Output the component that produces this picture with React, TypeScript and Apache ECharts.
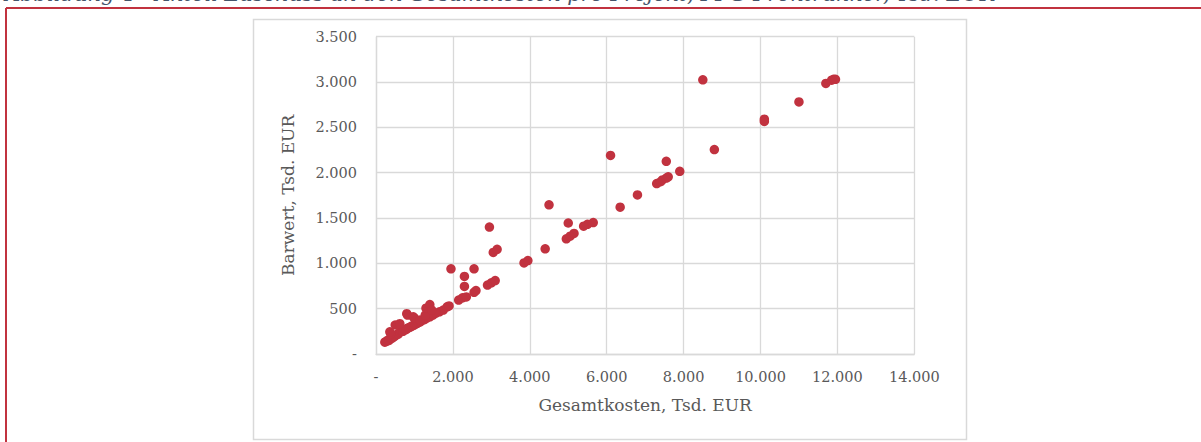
import React, { useEffect, useRef } from "react";
import * as echarts from "echarts";

const titleText =
  "Abbildung 4 - Anteil Zuschuss an den Gesamtkosten pro Projekt, FFG Frontrunner, Tsd. EUR";
const xAxisName = "Gesamtkosten, Tsd. EUR";
const yAxisName = "Barwert, Tsd. EUR";

// Gesamtkosten (Tsd. EUR)
const gesamtkosten: number[] = [
  8500, 11700, 11850, 11900, 11950, 11000, 10100, 10100, 8800, 6100, 7550, 7900,
  7300, 7400, 7450, 7550, 7600, 6800, 6350, 4500, 5000, 5650, 5500, 5400, 4950,
  5050, 5150, 4400, 3850, 3950, 2950, 3050, 3150, 1950, 2550, 2300, 2300, 2550,
  2600, 2900, 3000, 3100, 2150, 2250, 2350, 1650, 1750, 1850, 1900,
  230, 270, 300, 340, 380, 420, 460, 500, 540, 580, 620, 660, 700, 740, 780, 820,
  860, 900, 940, 980, 1020, 1060, 1100, 1150, 1200, 1260, 1320, 1400, 1480, 1560,
  380, 360, 500, 620, 800, 820, 970, 1000, 1150, 1280, 1300, 1400, 1450,
];
// Barwert (Tsd. EUR)
const barwert: number[] = [
  3025, 2985, 3020, 3030, 3030, 2780, 2590, 2565, 2255, 2190, 2125, 2015,
  1880, 1900, 1920, 1940, 1955, 1755, 1620, 1645, 1445, 1450, 1430, 1410, 1270,
  1300, 1330, 1160, 1005, 1030, 1400, 1120, 1155, 940, 940, 855, 745, 680,
  700, 760, 785, 810, 595, 620, 630, 465, 485, 520, 530,
  130, 140, 150, 150, 170, 175, 190, 200, 215, 220, 240, 250, 250, 265, 270, 285,
  290, 300, 310, 315, 330, 335, 345, 355, 370, 380, 395, 410, 430, 450,
  225, 245, 320, 335, 445, 430, 410, 395, 375, 430, 505, 545, 485,
];

const xTicks = { min: 0, max: 14000, step: 2000 };
const yTicks = { min: 0, max: 3500, step: 500 };

const fmt = (v: number) =>
  v === 0 ? "-" : String(Math.round(v)).replace(/\B(?=(\d{3})+(?!\d))/g, ".");

const FONT = "'DejaVu Serif', 'Liberation Serif', serif";
const TXT = "#595959";
const GRID = "#d9d9d9";
const RED = "#c1323f";

export default function App() {
  const ref = useRef<HTMLDivElement>(null);
  useEffect(() => {
    if (!ref.current) return;
    const chart = echarts.init(ref.current, undefined, { renderer: "svg" });
    const data = gesamtkosten.map((x, i) => [x, barwert[i]]);
    chart.setOption({
      animation: false,
      backgroundColor: "#ffffff",
      graphic: [
        {
          type: "text",
          left: 5,
          top: -17,
          style: {
            text: titleText,
            font: `italic 21px ${FONT}`,
            fill: "#44546a",
          },
        },
        {
          type: "line",
          shape: { x1: 6, y1: 8, x2: 1201, y2: 8 },
          style: { stroke: RED, lineWidth: 2 },
        },
        {
          type: "line",
          shape: { x1: 6, y1: 8, x2: 6, y2: 442 },
          style: { stroke: RED, lineWidth: 2 },
        },
        {
          type: "rect",
          shape: { x: 253.5, y: 19.5, width: 713, height: 420 },
          style: { fill: "none", stroke: GRID, lineWidth: 1.5 },
        },
      ],
      grid: { left: 376, top: 36.7, right: 286.7, bottom: 88, containLabel: false },
      xAxis: {
        type: "value",
        min: xTicks.min,
        max: xTicks.max,
        interval: xTicks.step,
        name: xAxisName,
        nameLocation: "middle",
        nameGap: 42,
        nameTextStyle: { color: TXT, fontFamily: FONT, fontSize: 17 },
        axisLine: { show: true, lineStyle: { color: GRID, width: 1.3 } },
        axisTick: { show: false },
        axisLabel: { color: TXT, fontFamily: FONT, fontSize: 14.5, margin: 15, formatter: fmt },
        splitLine: { show: true, lineStyle: { color: GRID, width: 1.3 } },
      },
      yAxis: {
        type: "value",
        min: yTicks.min,
        max: yTicks.max,
        interval: yTicks.step,
        name: yAxisName,
        nameLocation: "middle",
        nameGap: 80,
        nameRotate: 90,
        nameTextStyle: { color: TXT, fontFamily: FONT, fontSize: 17 },
        axisLine: { show: true, lineStyle: { color: GRID, width: 1.3 } },
        axisTick: { show: false },
        axisLabel: { color: TXT, fontFamily: FONT, fontSize: 14.5, margin: 19, formatter: fmt },
        splitLine: { show: true, lineStyle: { color: GRID, width: 1.3 } },
      },
      series: [
        {
          type: "scatter",
          data,
          symbol: "circle",
          symbolSize: 9.5,
          itemStyle: { color: RED, opacity: 1 },
        },
      ],
    });
    return () => chart.dispose();
  }, []);
  return (
    <div
      ref={ref}
      style={{ position: "absolute", left: 0, top: 0, width: 1201, height: 442 }}
    />
  );
}
